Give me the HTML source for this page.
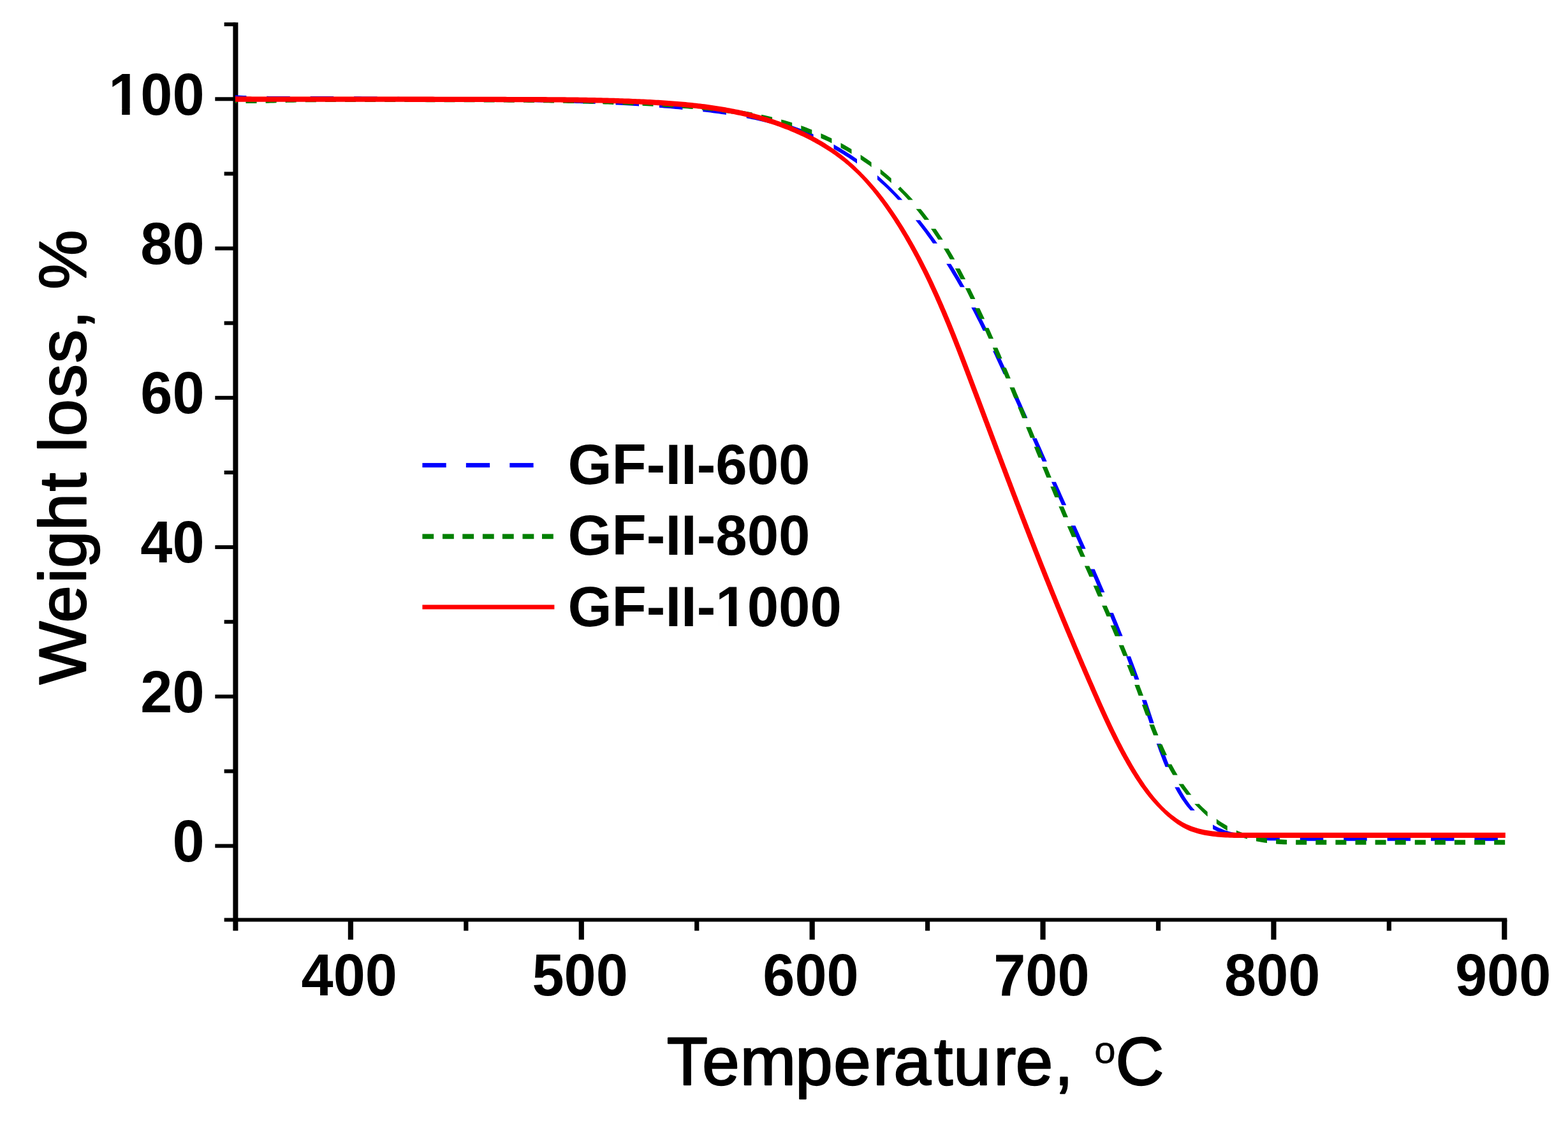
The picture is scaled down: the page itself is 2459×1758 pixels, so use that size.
<!DOCTYPE html>
<html lang="en"><head><meta charset="utf-8"><title>TGA weight loss curves</title>
<style>
html,body{margin:0;padding:0;background:#fff;width:2459px;height:1758px}
svg{display:block;filter:blur(0.7px)}
text{font-family:"Liberation Sans",Arial,Helvetica,sans-serif;fill:#000}
.b{font-weight:bold}
</style></head><body>
<svg width="2459" height="1758" viewBox="0 0 2459 1758" role="img" aria-label="Weight loss versus temperature for GF-II-600, GF-II-800 and GF-II-1000">
<rect x="0" y="0" width="2459" height="1758" fill="#fff"/>
<g id="axes" fill="#000">
<rect x="365.4" y="35.22" width="8" height="1424.38"/>
<rect x="351.6" y="1439.55" width="2011.7" height="5.9"/>
<rect x="337.3" y="1323.6" width="32.1" height="6"/>
<rect x="351.6" y="1206.47" width="17.8" height="6"/>
<rect x="337.3" y="1089.34" width="32.1" height="6"/>
<rect x="351.6" y="972.21" width="17.8" height="6"/>
<rect x="337.3" y="855.08" width="32.1" height="6"/>
<rect x="351.6" y="737.95" width="17.8" height="6"/>
<rect x="337.3" y="620.82" width="32.1" height="6"/>
<rect x="351.6" y="503.69" width="17.8" height="6"/>
<rect x="337.3" y="386.56" width="32.1" height="6"/>
<rect x="351.6" y="269.43" width="17.8" height="6"/>
<rect x="337.3" y="152.3" width="32.1" height="6"/>
<rect x="351.6" y="35.17" width="17.8" height="6"/>
<rect x="545.8" y="1442.5" width="8.2" height="31.1"/>
<rect x="727.24" y="1442.5" width="7.2" height="17.1"/>
<rect x="907.68" y="1442.5" width="8.2" height="31.1"/>
<rect x="1089.12" y="1442.5" width="7.2" height="17.1"/>
<rect x="1269.56" y="1442.5" width="8.2" height="31.1"/>
<rect x="1451" y="1442.5" width="7.2" height="17.1"/>
<rect x="1631.44" y="1442.5" width="8.2" height="31.1"/>
<rect x="1812.88" y="1442.5" width="7.2" height="17.1"/>
<rect x="1993.32" y="1442.5" width="8.2" height="31.1"/>
<rect x="2174.76" y="1442.5" width="7.2" height="17.1"/>
<rect x="2355.2" y="1442.5" width="8.2" height="31.1"/>
</g>
<g id="curves" stroke="none">
<path id="c600" fill="#0000ff" d="M368.97 149.19L373.4 149.46L377.82 149.69L382.25 149.91L386.4 150.08L386.4 156.98L382.25 156.81L377.82 156.59L373.4 156.36L368.97 156.09ZM418.3 150.87L422.11 150.91L426.53 150.94L430.96 150.96L435.39 150.98L439.81 150.98L444.24 150.98L448.67 150.98L453.09 150.97L454.8 150.96L454.8 157.86L453.09 157.87L448.67 157.88L444.24 157.88L439.81 157.88L435.39 157.88L430.96 157.86L426.53 157.84L422.11 157.81L418.3 157.77ZM486.7 150.9L490.71 150.9L495.13 150.91L499.56 150.92L503.98 150.94L508.41 150.95L512.83 150.97L517.26 150.99L521.68 151.02L523.2 151.03L523.2 157.93L521.68 157.92L517.26 157.89L512.83 157.87L508.41 157.85L503.98 157.84L499.56 157.82L495.13 157.81L490.71 157.8L486.7 157.8ZM555.1 151.26L559.28 151.3L563.71 151.34L568.13 151.38L572.56 151.42L576.98 151.46L581.4 151.5L585.83 151.54L590.25 151.58L591.6 151.59L591.6 158.49L590.25 158.48L585.83 158.44L581.4 158.4L576.98 158.36L572.56 158.32L568.13 158.28L563.71 158.24L559.28 158.2L555.1 158.16ZM623.5 151.85L627.85 151.88L632.28 151.91L636.7 151.94L641.13 151.97L645.55 151.99L649.97 152.01L654.4 152.04L658.82 152.06L660 152.06L660 158.96L658.82 158.96L654.4 158.94L649.97 158.91L645.55 158.89L641.13 158.87L636.7 158.84L632.28 158.81L627.85 158.78L623.5 158.75ZM691.9 152.2L696.43 152.22L700.85 152.24L705.28 152.25L709.71 152.27L714.13 152.29L718.56 152.31L722.98 152.33L727.41 152.35L728.4 152.35L728.4 159.25L727.41 159.25L722.98 159.23L718.56 159.21L714.13 159.19L709.71 159.17L705.28 159.15L700.85 159.14L696.43 159.12L691.9 159.1ZM760.3 152.53L762.82 152.55L767.24 152.58L771.67 152.61L776.1 152.65L780.53 152.69L784.95 152.73L789.38 152.77L793.81 152.81L796.8 152.84L796.8 159.74L793.81 159.71L789.38 159.67L784.95 159.63L780.53 159.59L776.1 159.55L771.67 159.51L767.24 159.48L762.82 159.45L760.3 159.43ZM828.7 153.25L831.46 153.3L835.89 153.37L840.32 153.44L844.75 153.52L849.18 153.61L853.61 153.69L858.04 153.78L862.48 153.88L865.2 153.94L865.2 160.84L862.48 160.78L858.04 160.68L853.61 160.59L849.18 160.51L844.75 160.42L840.32 160.34L835.89 160.27L831.46 160.2L828.7 160.15ZM897.1 154.77L900.16 154.86L904.59 155L909.03 155.14L913.46 155.29L917.9 155.45L922.33 155.61L926.77 155.78L931.21 155.95L933.6 156.04L933.6 162.94L931.21 162.85L926.77 162.68L922.33 162.51L917.9 162.35L913.46 162.19L909.03 162.04L904.59 161.9L900.16 161.76L897.1 161.67ZM965.5 157.49L968.91 157.66L973.35 157.89L977.78 158.13L982.21 158.38L986.64 158.63L991.07 158.9L995.5 159.16L999.93 159.44L1002 159.57L1002 166.47L999.93 166.34L995.5 166.06L991.07 165.8L986.64 165.53L982.21 165.28L977.78 165.03L973.35 164.79L968.91 164.56L965.5 164.39ZM1033.9 161.84L1037.5 162.12L1041.91 162.48L1046.31 162.84L1050.72 163.21L1055.12 163.6L1059.52 163.99L1063.92 164.39L1068.32 164.8L1070.4 165L1070.4 171.9L1068.32 171.7L1063.92 171.29L1059.52 170.89L1055.12 170.5L1050.72 170.11L1046.31 169.74L1041.91 169.38L1037.5 169.02L1033.9 168.74ZM1102.3 168.32L1105.55 168.69L1109.91 169.2L1114.27 169.72L1118.63 170.26L1122.98 170.82L1127.33 171.39L1131.67 171.98L1136.01 172.59L1138.8 172.99L1138.8 179.89L1136.01 179.49L1131.67 178.88L1127.33 178.29L1122.98 177.72L1118.63 177.16L1114.27 176.62L1109.91 176.1L1105.55 175.59L1102.3 175.22ZM1170.7 178.31L1174.86 179.12L1179.15 179.98L1183.43 180.88L1187.71 181.81L1191.99 182.77L1196.25 183.77L1200.52 184.8L1204.77 185.87L1207.2 186.5L1207.2 193.4L1204.77 192.77L1200.52 191.7L1196.25 190.67L1191.99 189.67L1187.71 188.71L1183.43 187.78L1179.15 186.88L1174.86 186.02L1170.7 185.21ZM1239.1 196.09L1242.81 197.38L1247 198.89L1251.18 200.44L1255.36 202.04L1259.52 203.69L1263.68 205.38L1267.81 207.13L1271.94 208.91L1275.6 210.54L1275.6 217.44L1271.94 215.81L1267.81 214.03L1263.68 212.28L1259.52 210.59L1255.36 208.94L1251.18 207.34L1247 205.79L1242.81 204.28L1239.1 202.99ZM1307.5 226.58L1310.15 228.08L1314.05 230.31L1317.91 232.59L1321.75 234.91L1325.55 237.27L1329.32 239.67L1333.06 242.1L1336.76 244.58L1340.43 247.09L1344 249.59L1344 256.49L1340.43 253.99L1336.76 251.48L1333.06 249L1329.32 246.57L1325.55 244.17L1321.75 241.81L1317.91 239.49L1314.05 237.21L1310.15 234.98L1307.5 233.48ZM1375.9 274.88L1378.37 277.06L1381.63 279.99L1384.85 282.95L1388.05 285.94L1391.23 288.96L1394.37 292.01L1397.49 295.09L1400.59 298.2L1400.59 305.1L1397.49 301.99L1394.37 298.91L1391.23 295.86L1388.05 292.84L1384.85 289.85L1381.63 286.89L1378.37 283.96L1375.9 281.78ZM1397.49 295.09L1400.94 298.54L1397.49 301.99L1394.04 298.54ZM1399.04 296.65L1402.49 300.1L1399.04 303.55L1395.59 300.1ZM1400.59 298.2L1404.04 301.65L1400.59 305.1L1397.14 301.65ZM1400.94 298.54L1404.04 301.65L1407.11 304.79L1410.16 307.96L1413.18 311.15L1415.32 313.44L1408.42 313.44L1406.28 311.15L1403.26 307.96L1400.21 304.79L1397.14 301.65L1394.04 298.54ZM1442.79 345.34L1444.86 347.95L1447.6 351.43L1450.32 354.94L1453.02 358.46L1455.69 362L1458.34 365.56L1460.97 369.14L1463.57 372.73L1466.16 376.35L1468.72 379.98L1470.02 381.84L1463.12 381.84L1461.82 379.98L1459.26 376.35L1456.67 372.73L1454.07 369.14L1451.44 365.56L1448.79 362L1446.12 358.46L1443.42 354.94L1440.7 351.43L1437.96 347.95L1435.89 345.34ZM1491.09 413.74L1493.16 417.06L1495.49 420.83L1497.8 424.61L1500.09 428.41L1502.36 432.21L1504.61 436.03L1506.84 439.85L1509.06 443.68L1511.26 447.52L1512.8 450.24L1505.9 450.24L1504.36 447.52L1502.16 443.68L1499.94 439.85L1497.71 436.03L1495.46 432.21L1493.19 428.41L1490.9 424.61L1488.59 420.83L1486.26 417.06L1484.19 413.74ZM1530.15 482.14L1531.34 484.42L1533.38 488.35L1535.4 492.28L1537.41 496.21L1539.41 500.15L1541.4 504.1L1543.38 508.06L1545.34 512.01L1547.3 515.98L1548.61 518.64L1541.71 518.64L1540.4 515.98L1538.44 512.01L1536.48 508.06L1534.5 504.1L1532.51 500.15L1530.51 496.21L1528.5 492.28L1526.48 488.35L1524.44 484.42L1523.25 482.14ZM1563.87 550.54L1565.43 553.86L1567.29 557.87L1569.16 561.88L1571.02 565.89L1572.87 569.9L1574.72 573.92L1576.56 577.94L1578.4 581.96L1580.23 585.98L1580.72 587.04L1573.82 587.04L1573.33 585.98L1571.5 581.96L1569.66 577.94L1567.82 573.92L1565.97 569.9L1564.12 565.89L1562.26 561.88L1560.39 557.87L1558.53 553.86L1556.97 550.54ZM1595.15 618.94L1596.63 622.24L1598.43 626.27L1600.24 630.31L1602.05 634.34L1603.85 638.38L1605.65 642.42L1607.45 646.46L1609.25 650.5L1611.04 654.54L1611.45 655.44L1604.55 655.44L1604.14 654.54L1602.35 650.5L1600.55 646.46L1598.75 642.42L1596.95 638.38L1595.15 634.34L1593.34 630.31L1591.53 626.27L1589.73 622.24L1588.25 618.94ZM1625.58 687.34L1627.17 690.93L1628.96 694.97L1630.74 699.02L1632.53 703.07L1634.32 707.11L1636.11 711.16L1637.9 715.21L1639.69 719.25L1641.48 723.3L1641.72 723.84L1634.82 723.84L1634.58 723.3L1632.79 719.25L1631 715.21L1629.21 711.16L1627.42 707.11L1625.63 703.07L1623.84 699.02L1622.06 694.97L1620.27 690.93L1618.68 687.34ZM1655.86 755.74L1657.63 759.72L1659.43 763.76L1661.23 767.81L1663.03 771.85L1664.84 775.9L1666.64 779.94L1668.45 783.99L1670.25 788.03L1672.06 792.08L1672.13 792.24L1665.23 792.24L1665.16 792.08L1663.35 788.03L1661.55 783.99L1659.74 779.94L1657.94 775.9L1656.13 771.85L1654.33 767.81L1652.53 763.76L1650.73 759.72L1648.96 755.74ZM1686.38 824.14L1687.42 826.46L1689.22 830.51L1691.02 834.55L1692.82 838.6L1694.62 842.65L1696.42 846.7L1698.22 850.75L1700.01 854.8L1701.81 858.85L1702.6 860.64L1695.7 860.64L1694.91 858.85L1693.11 854.8L1691.32 850.75L1689.52 846.7L1687.72 842.65L1685.92 838.6L1684.12 834.55L1682.32 830.51L1680.52 826.46L1679.48 824.14ZM1716.61 892.54L1717.83 895.35L1719.59 899.41L1721.36 903.47L1723.11 907.53L1724.87 911.6L1726.62 915.67L1728.36 919.73L1730.1 923.8L1731.84 927.87L1732.34 929.04L1725.44 929.04L1724.94 927.87L1723.2 923.8L1721.46 919.73L1719.72 915.67L1717.97 911.6L1716.21 907.53L1714.46 903.47L1712.69 899.41L1710.93 895.35L1709.71 892.54ZM1745.73 960.94L1747.24 964.58L1748.92 968.67L1750.6 972.76L1752.27 976.85L1753.93 980.95L1755.59 985.04L1757.24 989.14L1758.88 993.24L1760.52 997.35L1760.56 997.44L1753.66 997.44L1753.62 997.35L1751.98 993.24L1750.34 989.14L1748.69 985.04L1747.03 980.95L1745.37 976.85L1743.7 972.76L1742.02 968.67L1740.34 964.58L1738.83 960.94ZM1772.99 1029.34L1774.12 1032.32L1775.69 1036.45L1777.24 1040.58L1778.78 1044.71L1780.32 1048.85L1781.85 1052.98L1783.37 1057.13L1784.87 1061.27L1786.37 1065.42L1786.53 1065.84L1779.63 1065.84L1779.47 1065.42L1777.97 1061.27L1776.47 1057.13L1774.95 1052.98L1773.42 1048.85L1771.88 1044.71L1770.34 1040.58L1768.79 1036.45L1767.22 1032.32L1766.09 1029.34ZM1797.68 1097.74L1798.71 1100.8L1800.11 1104.97L1801.5 1109.16L1802.89 1113.34L1804.27 1117.53L1805.65 1121.72L1807.04 1125.91L1808.42 1130.1L1809.79 1134.24L1802.89 1134.24L1801.52 1130.1L1800.14 1125.91L1798.75 1121.72L1797.37 1117.53L1795.99 1113.34L1794.6 1109.16L1793.21 1104.97L1791.81 1100.8L1790.78 1097.74ZM1820.62 1166.14L1821.98 1169.99L1823.49 1174.19L1825.03 1178.39L1826.59 1182.59L1828.18 1186.78L1829.79 1190.98L1831.44 1195.17L1833.12 1199.37L1834.46 1202.64L1827.56 1202.64L1826.22 1199.37L1824.54 1195.17L1822.89 1190.98L1821.28 1186.78L1819.69 1182.59L1818.13 1178.39L1816.59 1174.19L1815.08 1169.99L1813.72 1166.14ZM1849.18 1234.54L1851.3 1238.48L1853.52 1242.42L1855.81 1246.31L1858.18 1250.14L1860.62 1253.9L1863.15 1257.58L1865.77 1261.18L1868.47 1264.69L1871.27 1268.11L1873.83 1271.04L1866.93 1271.04L1864.37 1268.11L1861.57 1264.69L1858.87 1261.18L1856.25 1257.58L1853.72 1253.9L1851.28 1250.14L1848.91 1246.31L1846.62 1242.42L1844.4 1238.48L1842.28 1234.54ZM1902 1293.27L1904.53 1294.67L1908.32 1296.63L1912.17 1298.44L1916.09 1300.11L1920.05 1301.63L1924.07 1303L1928.14 1304.24L1932.26 1305.34L1936.42 1306.32L1938.5 1306.76L1938.5 1313.66L1936.42 1313.22L1932.26 1312.24L1928.14 1311.14L1924.07 1309.9L1920.05 1308.53L1916.09 1307.01L1912.17 1305.34L1908.32 1303.53L1904.53 1301.57L1902 1300.17ZM1970.4 1310.6L1973.12 1310.74L1977.55 1310.93L1981.99 1311.08L1986.44 1311.2L1990.9 1311.28L1995.36 1311.35L1999.82 1311.4L2004.28 1311.45L2006.9 1311.48L2006.9 1318.38L2004.28 1318.35L1999.82 1318.3L1995.36 1318.25L1990.9 1318.18L1986.44 1318.1L1981.99 1317.98L1977.55 1317.83L1973.12 1317.64L1970.4 1317.5ZM2038.8 1311.72L2042.12 1311.74L2046.56 1311.76L2051 1311.77L2055.44 1311.79L2059.88 1311.8L2064.32 1311.81L2068.76 1311.81L2073.2 1311.82L2075.3 1311.82L2075.3 1318.72L2073.2 1318.72L2068.76 1318.71L2064.32 1318.71L2059.88 1318.7L2055.44 1318.69L2051 1318.67L2046.56 1318.66L2042.12 1318.64L2038.8 1318.62ZM2107.2 1311.82L2110.86 1311.82L2115.28 1311.82L2119.71 1311.82L2124.13 1311.82L2128.56 1311.82L2132.98 1311.82L2137.4 1311.82L2141.82 1311.82L2143.7 1311.82L2143.7 1318.72L2141.82 1318.72L2137.4 1318.72L2132.98 1318.72L2128.56 1318.72L2124.13 1318.72L2119.71 1318.72L2115.28 1318.72L2110.86 1318.72L2107.2 1318.72ZM2175.6 1311.82L2179.39 1311.82L2183.81 1311.82L2188.23 1311.82L2192.64 1311.82L2197.06 1311.82L2201.48 1311.82L2205.9 1311.82L2210.31 1311.82L2212.1 1311.82L2212.1 1318.72L2210.31 1318.72L2205.9 1318.72L2201.48 1318.72L2197.06 1318.72L2192.64 1318.72L2188.23 1318.72L2183.81 1318.72L2179.39 1318.72L2175.6 1318.72ZM2244 1311.82L2247.87 1311.82L2252.29 1311.82L2256.71 1311.82L2261.13 1311.82L2265.55 1311.82L2269.98 1311.82L2274.4 1311.82L2278.82 1311.82L2280.5 1311.82L2280.5 1318.72L2278.82 1318.72L2274.4 1318.72L2269.98 1318.72L2265.55 1318.72L2261.13 1318.72L2256.71 1318.72L2252.29 1318.72L2247.87 1318.72L2244 1318.72ZM2312.4 1311.82L2316.46 1311.82L2320.89 1311.82L2325.32 1311.82L2329.76 1311.82L2334.19 1311.82L2338.63 1311.82L2343.07 1311.82L2347.51 1311.82L2348.9 1311.82L2348.9 1318.72L2347.51 1318.72L2343.07 1318.72L2338.63 1318.72L2334.19 1318.72L2329.76 1318.72L2325.32 1318.72L2320.89 1318.72L2316.46 1318.72L2312.4 1318.72Z"/>
<path id="c800" fill="#008000" d="M368.96 154.39L371.18 154.44L371.4 154.45L371.4 161.85L371.18 161.84L368.96 161.79ZM385.5 154.63L388.9 154.64L393.33 154.63L397.76 154.6L402.2 154.56L402.5 154.55L402.5 161.95L402.2 161.96L397.76 162L393.33 162.03L388.9 162.04L385.5 162.03ZM416.6 154.31L419.91 154.24L424.34 154.14L428.77 154.03L433.2 153.92L433.6 153.91L433.6 161.31L433.2 161.32L428.77 161.43L424.34 161.54L419.91 161.64L416.6 161.71ZM447.7 153.54L450.91 153.46L455.34 153.36L459.76 153.26L464.19 153.17L464.7 153.16L464.7 160.56L464.19 160.57L459.76 160.66L455.34 160.76L450.91 160.86L447.7 160.94ZM478.8 152.93L481.89 152.89L486.32 152.84L490.74 152.8L495.17 152.76L495.8 152.75L495.8 160.15L495.17 160.16L490.74 160.2L486.32 160.24L481.89 160.29L478.8 160.33ZM509.9 152.67L512.87 152.65L517.29 152.63L521.72 152.62L526.14 152.61L526.9 152.61L526.9 160.01L526.14 160.01L521.72 160.02L517.29 160.03L512.87 160.05L509.9 160.07ZM541 152.58L543.83 152.58L548.26 152.57L552.68 152.57L557.1 152.56L558 152.56L558 159.96L557.1 159.96L552.68 159.97L548.26 159.97L543.83 159.98L541 159.98ZM572.1 152.56L574.8 152.56L579.22 152.56L583.64 152.57L588.06 152.57L589.1 152.57L589.1 159.97L588.06 159.97L583.64 159.97L579.22 159.96L574.8 159.96L572.1 159.96ZM603.2 152.58L605.75 152.59L610.18 152.59L614.6 152.6L619.02 152.61L620.2 152.61L620.2 160.01L619.02 160.01L614.6 160L610.18 159.99L605.75 159.99L603.2 159.98ZM634.3 152.64L638.92 152.65L643.35 152.66L647.77 152.67L651.3 152.68L651.3 160.08L647.77 160.07L643.35 160.06L638.92 160.05L634.3 160.04ZM665.4 152.72L669.88 152.73L674.3 152.74L678.73 152.75L682.4 152.76L682.4 160.16L678.73 160.15L674.3 160.14L669.88 160.13L665.4 160.12ZM696.5 152.8L700.84 152.81L705.27 152.83L709.69 152.84L713.5 152.85L713.5 160.25L709.69 160.24L705.27 160.23L700.84 160.21L696.5 160.2ZM727.6 152.89L731.81 152.91L736.24 152.92L740.66 152.94L744.6 152.95L744.6 160.35L740.66 160.34L736.24 160.32L731.81 160.31L727.6 160.29ZM758.7 153.01L762.79 153.03L767.21 153.05L771.64 153.07L775.7 153.09L775.7 160.49L771.64 160.47L767.21 160.45L762.79 160.43L758.7 160.41ZM789.8 153.18L793.77 153.21L798.2 153.24L802.63 153.27L806.8 153.31L806.8 160.71L802.63 160.67L798.2 160.64L793.77 160.61L789.8 160.58ZM820.9 153.43L824.77 153.47L829.2 153.52L833.63 153.57L837.9 153.62L837.9 161.02L833.63 160.97L829.2 160.92L824.77 160.87L820.9 160.83ZM852 153.81L855.79 153.86L860.22 153.93L864.65 154L869 154.07L869 161.47L864.65 161.4L860.22 161.33L855.79 161.26L852 161.21ZM883.1 154.32L886.81 154.39L891.25 154.48L895.68 154.58L900.1 154.68L900.1 162.08L895.68 161.98L891.25 161.88L886.81 161.79L883.1 161.72ZM914.2 155.01L917.86 155.11L922.3 155.22L926.74 155.35L931.18 155.47L931.2 155.47L931.2 162.87L931.18 162.87L926.74 162.75L922.3 162.62L917.86 162.51L914.2 162.41ZM945.3 155.91L948.93 156.03L953.37 156.18L957.81 156.33L962.25 156.49L962.3 156.49L962.3 163.89L962.25 163.89L957.81 163.73L953.37 163.58L948.93 163.43L945.3 163.31ZM976.4 157.04L980.02 157.18L984.47 157.37L988.91 157.56L993.36 157.76L993.4 157.76L993.4 165.16L993.36 165.16L988.91 164.96L984.47 164.77L980.02 164.58L976.4 164.44ZM1007.5 158.43L1011.14 158.61L1015.59 158.84L1020.04 159.07L1024.49 159.31L1024.5 159.31L1024.5 166.71L1024.49 166.71L1020.04 166.47L1015.59 166.24L1011.14 166.01L1007.5 165.83ZM1038.6 160.13L1042.28 160.35L1046.72 160.64L1051.17 160.93L1055.6 161.23L1055.6 168.63L1051.17 168.33L1046.72 168.04L1042.28 167.75L1038.6 167.53ZM1069.7 162.28L1073.36 162.57L1077.8 162.94L1082.23 163.32L1086.65 163.71L1086.7 163.72L1086.7 171.12L1086.65 171.11L1082.23 170.72L1077.8 170.34L1073.36 169.97L1069.7 169.68ZM1100.8 165.08L1104.32 165.45L1108.73 165.93L1113.13 166.42L1117.53 166.93L1117.8 166.97L1117.8 174.37L1117.53 174.33L1113.13 173.82L1108.73 173.33L1104.32 172.85L1100.8 172.48ZM1131.9 168.75L1135.07 169.18L1139.44 169.8L1143.81 170.43L1148.17 171.09L1148.9 171.21L1148.9 178.61L1148.17 178.49L1143.81 177.83L1139.44 177.2L1135.07 176.58L1131.9 176.15ZM1163 173.52L1165.53 173.96L1169.86 174.74L1174.17 175.54L1178.48 176.37L1180 176.67L1180 184.07L1178.48 183.77L1174.17 182.94L1169.86 182.14L1165.53 181.36L1163 180.92ZM1194.1 179.63L1197.75 180.45L1202.01 181.44L1206.26 182.45L1210.5 183.5L1211.1 183.65L1211.1 191.05L1210.5 190.9L1206.26 189.85L1202.01 188.84L1197.75 187.85L1194.1 187.03ZM1225.2 187.39L1229.45 188.59L1233.63 189.81L1237.8 191.07L1241.95 192.36L1242.2 192.44L1242.2 199.84L1241.95 199.76L1237.8 198.47L1233.63 197.21L1229.45 195.99L1225.2 194.79ZM1256.3 197.12L1260.51 198.62L1264.6 200.11L1268.68 201.64L1272.74 203.2L1273.3 203.43L1273.3 210.83L1272.74 210.6L1268.68 209.04L1264.6 207.51L1260.51 206.02L1256.3 204.52ZM1287.4 209.24L1290.85 210.76L1294.84 212.55L1298.81 214.38L1302.76 216.26L1304.4 217.05L1304.4 224.45L1302.76 223.66L1298.81 221.78L1294.84 219.95L1290.85 218.16L1287.4 216.64ZM1318.5 224.24L1322.3 226.3L1326.16 228.45L1330 230.64L1333.83 232.88L1335.5 233.88L1335.5 241.28L1333.83 240.28L1330 238.04L1326.16 235.85L1322.3 233.7L1318.5 231.64ZM1349.6 242.72L1352.65 244.74L1356.35 247.24L1360.02 249.78L1363.67 252.37L1366.6 254.5L1366.6 261.9L1363.67 259.77L1360.02 257.18L1356.35 254.64L1352.65 252.14L1349.6 250.12ZM1380.7 265.27L1383.23 267.3L1386.69 270.14L1390.12 273.02L1393.52 275.94L1396.88 278.89L1397.7 279.63L1397.7 287.03L1396.88 286.29L1393.52 283.34L1390.12 280.42L1386.69 277.54L1383.23 274.7L1380.7 272.67ZM1411.8 292.84L1414.71 295.73L1414.71 303.13L1411.8 300.24ZM1411.8 292.84L1415.5 296.54L1411.8 300.24L1408.1 296.54ZM1413.25 294.28L1416.95 297.98L1413.25 301.68L1409.55 297.98ZM1414.71 295.73L1418.41 299.43L1414.71 303.13L1411.01 299.43ZM1415.5 296.54L1418.41 299.43L1421.52 302.6L1424.59 305.8L1427.63 309.03L1430.62 312.29L1431.74 313.53L1424.34 313.53L1423.22 312.29L1420.23 309.03L1417.19 305.8L1414.12 302.6L1411.01 299.43L1408.1 296.54ZM1443.86 327.63L1446.4 330.75L1449.15 334.2L1451.87 337.67L1454.55 341.16L1457.16 344.63L1449.76 344.63L1447.15 341.16L1444.47 337.67L1441.75 334.2L1439 330.75L1436.46 327.63ZM1467.28 358.73L1468.73 360.83L1471.21 364.47L1473.66 368.14L1476.09 371.83L1478.49 375.54L1478.6 375.73L1471.2 375.73L1471.09 375.54L1468.69 371.83L1466.26 368.14L1463.81 364.47L1461.33 360.83L1459.88 358.73ZM1487.37 389.83L1488.95 392.47L1491.21 396.28L1493.45 400.1L1495.66 403.95L1497.3 406.83L1489.9 406.83L1488.26 403.95L1486.05 400.1L1483.81 396.28L1481.55 392.47L1479.97 389.83ZM1505.1 420.93L1506.42 423.36L1508.51 427.29L1510.58 431.22L1512.64 435.17L1514.06 437.93L1506.66 437.93L1505.24 435.17L1503.18 431.22L1501.11 427.29L1499.02 423.36L1497.7 420.93ZM1521.19 452.03L1522.68 455.04L1524.64 459.03L1526.59 463.04L1528.53 467.05L1529.48 469.03L1522.08 469.03L1521.13 467.05L1519.19 463.04L1517.24 459.03L1515.28 455.04L1513.79 452.03ZM1536.15 483.13L1538.05 487.18L1539.92 491.22L1541.79 495.26L1543.65 499.3L1544.03 500.13L1536.63 500.13L1536.25 499.3L1534.39 495.26L1532.52 491.22L1530.65 487.18L1528.75 483.13ZM1550.44 514.23L1551.92 517.52L1553.74 521.57L1555.55 525.63L1557.35 529.68L1558.03 531.23L1550.63 531.23L1549.95 529.68L1548.15 525.63L1546.34 521.57L1544.52 517.52L1543.04 514.23ZM1564.24 545.33L1565.38 547.96L1567.15 552.03L1568.92 556.09L1570.67 560.16L1571.61 562.33L1564.21 562.33L1563.27 560.16L1561.52 556.09L1559.75 552.03L1557.98 547.96L1556.84 545.33ZM1577.64 576.43L1579.38 580.52L1581.11 584.6L1582.83 588.68L1584.55 592.76L1584.83 593.43L1577.43 593.43L1577.15 592.76L1575.43 588.68L1573.71 584.6L1571.98 580.52L1570.24 576.43ZM1590.74 607.53L1592.24 611.12L1593.94 615.2L1595.63 619.29L1597.32 623.37L1597.8 624.53L1590.4 624.53L1589.92 623.37L1588.23 619.29L1586.54 615.2L1584.84 611.12L1583.34 607.53ZM1603.62 638.63L1604.91 641.75L1606.59 645.84L1608.27 649.93L1609.94 654.02L1610.6 655.63L1603.2 655.63L1602.54 654.02L1600.87 649.93L1599.19 645.84L1597.51 641.75L1596.22 638.63ZM1616.37 669.73L1617.47 672.41L1619.13 676.5L1620.8 680.58L1622.47 684.67L1623.31 686.73L1615.91 686.73L1615.07 684.67L1613.4 680.58L1611.73 676.5L1610.07 672.41L1608.97 669.73ZM1629.07 700.83L1630.81 705.1L1632.48 709.19L1634.15 713.27L1635.82 717.35L1636.02 717.83L1628.62 717.83L1628.42 717.35L1626.75 713.27L1625.08 709.19L1623.41 705.1L1621.67 700.83ZM1641.8 731.93L1643.36 735.72L1645.04 739.8L1646.72 743.88L1648.4 747.96L1648.8 748.93L1641.4 748.93L1641 747.96L1639.32 743.88L1637.64 739.8L1635.96 735.72L1634.4 731.93ZM1654.65 763.03L1656.01 766.3L1657.71 770.37L1659.41 774.44L1661.12 778.51L1661.75 780.03L1654.35 780.03L1653.72 778.51L1652.01 774.44L1650.31 770.37L1648.61 766.3L1647.25 763.03ZM1667.7 794.13L1668.84 796.8L1670.57 800.86L1672.3 804.92L1674.03 808.98L1674.95 811.13L1667.55 811.13L1666.63 808.98L1664.9 804.92L1663.17 800.86L1661.44 796.8L1660.3 794.13ZM1681.03 825.23L1682.78 829.24L1684.53 833.29L1686.3 837.34L1688.06 841.39L1688.43 842.23L1681.03 842.23L1680.66 841.39L1678.9 837.34L1677.13 833.29L1675.38 829.24L1673.63 825.23ZM1694.6 856.33L1696.03 859.59L1697.81 863.64L1699.59 867.68L1701.37 871.73L1702.07 873.33L1694.67 873.33L1693.97 871.73L1692.19 867.68L1690.41 863.64L1688.63 859.59L1687.2 856.33ZM1708.28 887.43L1709.38 889.92L1711.17 893.97L1712.95 898.02L1714.73 902.06L1715.77 904.43L1708.37 904.43L1707.33 902.06L1705.55 898.02L1703.77 893.97L1701.98 889.92L1700.88 887.43ZM1721.98 918.53L1723.63 922.3L1725.41 926.35L1727.18 930.41L1728.96 934.46L1729.42 935.53L1722.02 935.53L1721.56 934.46L1719.78 930.41L1718.01 926.35L1716.23 922.3L1714.58 918.53ZM1735.56 949.63L1736.9 952.72L1738.66 956.79L1740.42 960.85L1742.17 964.92L1742.9 966.63L1735.5 966.63L1734.77 964.92L1733.02 960.85L1731.26 956.79L1729.5 952.72L1728.16 949.63ZM1748.93 980.73L1750 983.25L1751.73 987.33L1753.45 991.41L1755.17 995.5L1756.11 997.73L1748.71 997.73L1747.77 995.5L1746.05 991.41L1744.33 987.33L1742.6 983.25L1741.53 980.73ZM1761.97 1011.83L1763.68 1015.97L1765.37 1020.08L1767.04 1024.19L1768.71 1028.3L1768.93 1028.83L1761.53 1028.83L1761.31 1028.3L1759.64 1024.19L1757.97 1020.08L1756.28 1015.97L1754.57 1011.83ZM1774.59 1042.93L1776.14 1046.85L1777.77 1050.98L1779.4 1055.12L1781.01 1059.26L1781.27 1059.93L1773.87 1059.93L1773.61 1059.26L1772 1055.12L1770.37 1050.98L1768.74 1046.85L1767.19 1042.93ZM1786.68 1074.03L1788.16 1077.95L1789.73 1082.12L1791.28 1086.29L1792.83 1090.47L1793.03 1091.03L1785.63 1091.03L1785.43 1090.47L1783.88 1086.29L1782.33 1082.12L1780.76 1077.95L1779.28 1074.03ZM1798.21 1105.13L1799.74 1109.28L1801.27 1113.46L1802.81 1117.64L1804.36 1121.82L1804.48 1122.13L1797.08 1122.13L1796.96 1121.82L1795.41 1117.64L1793.87 1113.46L1792.34 1109.28L1790.81 1105.13ZM1809.79 1136.23L1811.45 1140.53L1813.06 1144.66L1814.7 1148.79L1816.36 1152.9L1816.49 1153.23L1809.09 1153.23L1808.96 1152.9L1807.3 1148.79L1805.66 1144.66L1804.05 1140.53L1802.39 1136.23ZM1822.41 1167.33L1824.12 1171.24L1825.93 1175.27L1827.77 1179.28L1829.64 1183.27L1830.15 1184.33L1822.75 1184.33L1822.24 1183.27L1820.37 1179.28L1818.53 1175.27L1816.72 1171.24L1815.01 1167.33ZM1837.23 1198.43L1838.58 1200.97L1840.69 1204.84L1842.84 1208.68L1845.05 1212.5L1846.79 1215.43L1839.39 1215.43L1837.65 1212.5L1835.44 1208.68L1833.29 1204.84L1831.18 1200.97L1829.83 1198.43ZM1855.81 1229.53L1858.17 1232.93L1860.75 1236.54L1863.39 1240.12L1866.11 1243.66L1868.38 1246.53L1860.98 1246.53L1858.71 1243.66L1855.99 1240.12L1853.35 1236.54L1850.77 1232.93L1848.41 1229.53ZM1880.59 1260.63L1883.73 1263.92L1886.88 1267.1L1879.48 1267.1L1876.33 1263.92L1873.19 1260.63ZM1880.03 1260.22L1883.73 1263.92L1880.03 1267.62L1876.33 1263.92ZM1881.6 1261.81L1885.3 1265.51L1881.6 1269.21L1877.9 1265.51ZM1883.18 1263.4L1886.88 1267.1L1883.18 1270.8L1879.48 1267.1ZM1880.03 1260.22L1883.18 1263.4L1886.39 1266.52L1889.66 1269.57L1892.98 1272.55L1893.7 1273.17L1893.7 1280.57L1892.98 1279.95L1889.66 1276.97L1886.39 1273.92L1883.18 1270.8L1880.03 1267.62ZM1907.8 1284.37L1910.44 1286.24L1914.08 1288.72L1917.78 1291.09L1921.53 1293.37L1924.8 1295.25L1924.8 1302.65L1921.53 1300.77L1917.78 1298.49L1914.08 1296.12L1910.44 1293.64L1907.8 1291.77ZM1938.9 1302.25L1942.98 1303.94L1947.02 1305.48L1951.11 1306.9L1955.23 1308.19L1955.9 1308.39L1955.9 1315.79L1955.23 1315.59L1951.11 1314.3L1947.02 1312.88L1942.98 1311.34L1938.9 1309.65ZM1970 1311.88L1974.2 1312.7L1978.5 1313.43L1982.81 1314.09L1987 1314.64L1987 1322.04L1982.81 1321.49L1978.5 1320.83L1974.2 1320.1L1970 1319.28ZM2001.1 1316.04L2004.62 1316.29L2009.02 1316.55L2013.41 1316.77L2017.81 1316.94L2018.1 1316.95L2018.1 1324.35L2017.81 1324.34L2013.41 1324.17L2009.02 1323.95L2004.62 1323.69L2001.1 1323.44ZM2032.2 1317.27L2035.44 1317.3L2039.85 1317.32L2044.27 1317.33L2048.68 1317.33L2049.2 1317.33L2049.2 1324.73L2048.68 1324.73L2044.27 1324.73L2039.85 1324.72L2035.44 1324.7L2032.2 1324.67ZM2063.3 1317.33L2066.38 1317.33L2070.8 1317.33L2075.23 1317.33L2079.66 1317.33L2080.3 1317.33L2080.3 1324.73L2079.66 1324.73L2075.23 1324.73L2070.8 1324.73L2066.38 1324.73L2063.3 1324.73ZM2094.4 1317.33L2097.4 1317.33L2101.83 1317.33L2106.27 1317.33L2110.7 1317.33L2111.4 1317.33L2111.4 1324.73L2110.7 1324.73L2106.27 1324.73L2101.83 1324.73L2097.4 1324.73L2094.4 1324.73ZM2125.5 1317.33L2128.46 1317.33L2132.89 1317.33L2137.33 1317.33L2141.77 1317.33L2142.5 1317.33L2142.5 1324.73L2141.77 1324.73L2137.33 1324.73L2132.89 1324.73L2128.46 1324.73L2125.5 1324.73ZM2156.6 1317.33L2159.51 1317.33L2163.95 1317.33L2168.38 1317.33L2172.82 1317.33L2173.6 1317.33L2173.6 1324.73L2172.82 1324.73L2168.38 1324.73L2163.95 1324.73L2159.51 1324.73L2156.6 1324.73ZM2187.7 1317.35L2190.53 1317.35L2194.96 1317.36L2199.38 1317.36L2203.8 1317.36L2204.7 1317.36L2204.7 1324.76L2203.8 1324.76L2199.38 1324.76L2194.96 1324.76L2190.53 1324.75L2187.7 1324.75ZM2218.8 1317.36L2221.48 1317.36L2225.9 1317.36L2230.31 1317.36L2234.73 1317.36L2235.8 1317.36L2235.8 1324.76L2234.73 1324.76L2230.31 1324.76L2225.9 1324.76L2221.48 1324.76L2218.8 1324.76ZM2249.9 1317.36L2254.6 1317.36L2259.01 1317.36L2263.43 1317.36L2266.9 1317.36L2266.9 1324.76L2263.43 1324.76L2259.01 1324.76L2254.6 1324.76L2249.9 1324.76ZM2281 1317.36L2285.51 1317.36L2289.93 1317.36L2294.34 1317.36L2298 1317.36L2298 1324.76L2294.34 1324.76L2289.93 1324.76L2285.51 1324.76L2281 1324.76ZM2312.1 1317.36L2316.46 1317.36L2320.88 1317.36L2325.31 1317.36L2329.1 1317.36L2329.1 1324.76L2325.31 1324.76L2320.88 1324.76L2316.46 1324.76L2312.1 1324.76ZM2343.2 1317.36L2347.48 1317.36L2351.92 1317.36L2356.37 1317.36L2360.2 1317.36L2360.2 1324.76L2356.37 1324.76L2351.92 1324.76L2347.48 1324.76L2343.2 1324.76Z"/>
<path id="c1000" fill="#ff0000" d="M368.97 151.34L372.31 151.35L375.65 151.35L378.99 151.36L382.33 151.36L385.67 151.36L389.01 151.37L392.35 151.37L395.69 151.38L399.02 151.38L402.36 151.38L405.7 151.39L409.04 151.39L412.38 151.4L415.71 151.4L419.05 151.4L422.39 151.41L425.72 151.41L429.06 151.41L432.4 151.42L435.73 151.42L439.07 151.42L442.4 151.42L445.74 151.43L449.07 151.43L452.41 151.43L455.74 151.44L459.08 151.44L462.41 151.44L465.75 151.44L469.08 151.45L472.41 151.45L475.75 151.45L479.08 151.45L482.42 151.46L485.75 151.46L489.08 151.46L492.42 151.46L495.75 151.46L499.08 151.47L502.42 151.47L505.75 151.47L509.08 151.47L512.41 151.48L515.75 151.48L519.08 151.48L522.41 151.48L525.74 151.48L529.07 151.49L532.41 151.49L535.74 151.49L539.07 151.49L542.4 151.5L545.73 151.5L549.07 151.5L552.4 151.5L555.73 151.5L559.06 151.51L562.39 151.51L565.72 151.51L569.05 151.51L572.39 151.52L575.72 151.52L579.05 151.52L582.38 151.52L585.71 151.53L589.04 151.53L592.37 151.53L595.7 151.53L599.04 151.54L602.37 151.54L605.7 151.54L609.03 151.55L612.36 151.55L615.69 151.55L619.02 151.55L622.35 151.56L625.69 151.56L629.02 151.56L632.35 151.57L635.68 151.57L639.01 151.57L642.34 151.58L645.67 151.58L649.01 151.59L652.34 151.59L655.67 151.59L659 151.6L662.33 151.6L665.66 151.61L669 151.61L672.33 151.62L675.66 151.62L678.99 151.62L682.32 151.63L685.66 151.63L688.99 151.64L692.32 151.64L695.65 151.65L698.99 151.66L702.32 151.66L705.65 151.67L708.99 151.67L712.32 151.68L715.65 151.68L718.99 151.69L722.32 151.7L725.65 151.7L728.99 151.71L732.32 151.72L735.66 151.72L738.99 151.73L742.32 151.74L745.66 151.75L748.99 151.75L752.33 151.76L755.66 151.77L759 151.78L762.34 151.78L765.67 151.79L769.01 151.8L772.34 151.81L775.68 151.82L779.02 151.83L782.35 151.84L785.69 151.85L789.03 151.86L792.36 151.87L795.7 151.88L799.04 151.89L802.38 151.9L805.72 151.91L809.06 151.92L812.39 151.93L815.73 151.94L819.07 151.95L822.41 151.97L825.75 151.98L829.09 151.99L832.43 152L835.77 152.02L839.11 152.03L842.45 152.05L845.79 152.07L849.13 152.08L852.47 152.1L855.81 152.12L859.15 152.14L862.49 152.17L865.83 152.19L869.17 152.21L872.51 152.24L875.85 152.27L879.19 152.3L882.53 152.33L885.87 152.37L889.21 152.4L892.55 152.44L895.89 152.48L899.23 152.52L902.57 152.56L905.9 152.61L909.24 152.66L912.58 152.71L915.91 152.77L919.25 152.82L922.59 152.88L925.92 152.94L929.26 153.01L932.59 153.08L935.93 153.15L939.26 153.22L942.59 153.3L945.93 153.38L949.26 153.46L952.59 153.55L955.92 153.64L959.25 153.73L962.58 153.83L965.91 153.93L969.24 154.04L972.56 154.15L975.89 154.26L979.21 154.38L982.54 154.5L985.86 154.62L989.19 154.75L992.51 154.89L995.83 155.03L999.15 155.17L1002.47 155.32L1005.79 155.47L1009.11 155.62L1012.43 155.79L1015.74 155.95L1019.06 156.12L1022.37 156.3L1025.68 156.48L1028.99 156.67L1032.31 156.86L1035.61 157.06L1038.92 157.27L1042.23 157.48L1045.54 157.7L1048.84 157.93L1052.15 158.17L1055.45 158.41L1058.75 158.67L1062.05 158.93L1065.35 159.2L1068.64 159.49L1071.94 159.78L1075.23 160.08L1078.53 160.39L1081.82 160.72L1085.11 161.06L1088.4 161.4L1091.69 161.77L1094.97 162.14L1098.26 162.53L1101.54 162.93L1104.82 163.34L1108.1 163.77L1111.38 164.21L1114.66 164.67L1117.93 165.14L1121.2 165.63L1124.48 166.13L1127.74 166.65L1131.01 167.18L1134.28 167.74L1137.54 168.31L1140.81 168.9L1144.07 169.5L1147.33 170.13L1150.59 170.77L1153.84 171.43L1157.09 172.11L1160.35 172.81L1163.6 173.53L1166.84 174.27L1170.09 175.04L1173.33 175.82L1176.58 176.62L1179.82 177.45L1183.05 178.3L1186.29 179.17L1189.52 180.06L1192.75 180.98L1195.98 181.92L1199.21 182.89L1202.43 183.87L1205.64 184.88L1208.85 185.92L1212.05 186.98L1215.25 188.06L1218.44 189.16L1221.62 190.29L1224.79 191.45L1227.96 192.63L1231.11 193.83L1234.26 195.06L1237.4 196.32L1240.52 197.6L1243.64 198.9L1246.74 200.23L1249.83 201.59L1252.91 202.97L1255.97 204.38L1259.02 205.81L1262.06 207.27L1265.08 208.76L1268.08 210.27L1271.07 211.81L1274.05 213.38L1277 214.97L1279.94 216.59L1282.86 218.24L1285.76 219.91L1288.64 221.62L1291.51 223.35L1294.35 225.1L1297.17 226.89L1299.97 228.7L1302.75 230.55L1305.5 232.42L1308.24 234.32L1310.95 236.24L1313.63 238.2L1316.29 240.19L1318.93 242.2L1321.54 244.25L1324.12 246.32L1326.68 248.42L1329.22 250.56L1331.72 252.71L1334.21 254.9L1336.67 257.11L1339.1 259.35L1341.51 261.62L1343.9 263.91L1346.27 266.22L1348.61 268.56L1348.61 276.86L1346.27 274.52L1343.9 272.21L1341.51 269.92L1339.1 267.65L1336.67 265.41L1334.21 263.2L1331.72 261.01L1329.22 258.86L1326.68 256.72L1324.12 254.62L1321.54 252.55L1318.93 250.5L1316.29 248.49L1313.63 246.5L1310.95 244.54L1308.24 242.62L1305.5 240.72L1302.75 238.85L1299.97 237L1297.17 235.19L1294.35 233.4L1291.51 231.65L1288.64 229.92L1285.76 228.21L1282.86 226.54L1279.94 224.89L1277 223.27L1274.05 221.68L1271.07 220.11L1268.08 218.57L1265.08 217.06L1262.06 215.57L1259.02 214.11L1255.97 212.68L1252.91 211.27L1249.83 209.89L1246.74 208.53L1243.64 207.2L1240.52 205.9L1237.4 204.62L1234.26 203.36L1231.11 202.13L1227.96 200.93L1224.79 199.75L1221.62 198.59L1218.44 197.46L1215.25 196.36L1212.05 195.28L1208.85 194.22L1205.64 193.18L1202.43 192.17L1199.21 191.19L1195.98 190.22L1192.75 189.28L1189.52 188.36L1186.29 187.47L1183.05 186.6L1179.82 185.75L1176.58 184.92L1173.33 184.12L1170.09 183.34L1166.84 182.57L1163.6 181.83L1160.35 181.11L1157.09 180.41L1153.84 179.73L1150.59 179.07L1147.33 178.43L1144.07 177.8L1140.81 177.2L1137.54 176.61L1134.28 176.04L1131.01 175.48L1127.74 174.95L1124.48 174.43L1121.2 173.93L1117.93 173.44L1114.66 172.97L1111.38 172.51L1108.1 172.07L1104.82 171.64L1101.54 171.23L1098.26 170.83L1094.97 170.44L1091.69 170.07L1088.4 169.7L1085.11 169.36L1081.82 169.02L1078.53 168.69L1075.23 168.38L1071.94 168.08L1068.64 167.79L1065.35 167.5L1062.05 167.23L1058.75 166.97L1055.45 166.71L1052.15 166.47L1048.84 166.23L1045.54 166L1042.23 165.78L1038.92 165.57L1035.61 165.36L1032.31 165.16L1028.99 164.97L1025.68 164.78L1022.37 164.6L1019.06 164.42L1015.74 164.25L1012.43 164.09L1009.11 163.92L1005.79 163.77L1002.47 163.62L999.15 163.47L995.83 163.33L992.51 163.19L989.19 163.05L985.86 162.92L982.54 162.8L979.21 162.68L975.89 162.56L972.56 162.45L969.24 162.34L965.91 162.23L962.58 162.13L959.25 162.03L955.92 161.94L952.59 161.85L949.26 161.76L945.93 161.68L942.59 161.6L939.26 161.52L935.93 161.45L932.59 161.38L929.26 161.31L925.92 161.24L922.59 161.18L919.25 161.12L915.91 161.07L912.58 161.01L909.24 160.96L905.9 160.91L902.57 160.86L899.23 160.82L895.89 160.78L892.55 160.74L889.21 160.7L885.87 160.67L882.53 160.63L879.19 160.6L875.85 160.57L872.51 160.54L869.17 160.51L865.83 160.49L862.49 160.47L859.15 160.44L855.81 160.42L852.47 160.4L849.13 160.38L845.79 160.37L842.45 160.35L839.11 160.33L835.77 160.32L832.43 160.3L829.09 160.29L825.75 160.28L822.41 160.27L819.07 160.25L815.73 160.24L812.39 160.23L809.06 160.22L805.72 160.21L802.38 160.2L799.04 160.19L795.7 160.18L792.36 160.17L789.03 160.16L785.69 160.15L782.35 160.14L779.02 160.13L775.68 160.12L772.34 160.11L769.01 160.1L765.67 160.09L762.34 160.08L759 160.08L755.66 160.07L752.33 160.06L748.99 160.05L745.66 160.05L742.32 160.04L738.99 160.03L735.66 160.02L732.32 160.02L728.99 160.01L725.65 160L722.32 160L718.99 159.99L715.65 159.98L712.32 159.98L708.99 159.97L705.65 159.97L702.32 159.96L698.99 159.96L695.65 159.95L692.32 159.94L688.99 159.94L685.66 159.93L682.32 159.93L678.99 159.92L675.66 159.92L672.33 159.92L669 159.91L665.66 159.91L662.33 159.9L659 159.9L655.67 159.89L652.34 159.89L649.01 159.89L645.67 159.88L642.34 159.88L639.01 159.87L635.68 159.87L632.35 159.87L629.02 159.86L625.69 159.86L622.35 159.86L619.02 159.85L615.69 159.85L612.36 159.85L609.03 159.85L605.7 159.84L602.37 159.84L599.04 159.84L595.7 159.83L592.37 159.83L589.04 159.83L585.71 159.83L582.38 159.82L579.05 159.82L575.72 159.82L572.39 159.82L569.05 159.81L565.72 159.81L562.39 159.81L559.06 159.81L555.73 159.8L552.4 159.8L549.07 159.8L545.73 159.8L542.4 159.8L539.07 159.79L535.74 159.79L532.41 159.79L529.07 159.79L525.74 159.78L522.41 159.78L519.08 159.78L515.75 159.78L512.41 159.78L509.08 159.77L505.75 159.77L502.42 159.77L499.08 159.77L495.75 159.76L492.42 159.76L489.08 159.76L485.75 159.76L482.42 159.76L479.08 159.75L475.75 159.75L472.41 159.75L469.08 159.75L465.75 159.74L462.41 159.74L459.08 159.74L455.74 159.74L452.41 159.73L449.07 159.73L445.74 159.73L442.4 159.72L439.07 159.72L435.73 159.72L432.4 159.72L429.06 159.71L425.72 159.71L422.39 159.71L419.05 159.7L415.71 159.7L412.38 159.7L409.04 159.69L405.7 159.69L402.36 159.68L399.02 159.68L395.69 159.68L392.35 159.67L389.01 159.67L385.67 159.66L382.33 159.66L378.99 159.66L375.65 159.65L372.31 159.65L368.97 159.64ZM1346.27 266.22L1350.42 270.37L1346.27 274.52L1342.12 270.37ZM1347.44 267.39L1351.59 271.54L1347.44 275.69L1343.29 271.54ZM1348.61 268.56L1352.76 272.71L1348.61 276.86L1344.46 272.71ZM1350.42 270.37L1352.76 272.71L1355.07 275.07L1357.37 277.46L1359.64 279.87L1361.9 282.3L1364.13 284.75L1366.34 287.22L1368.52 289.71L1370.69 292.22L1372.84 294.76L1374.96 297.31L1377.07 299.87L1379.16 302.46L1381.23 305.06L1383.28 307.69L1385.31 310.32L1387.32 312.97L1389.32 315.64L1391.29 318.32L1393.25 321.02L1395.19 323.73L1397.12 326.45L1399.03 329.19L1400.92 331.93L1402.8 334.69L1404.66 337.46L1406.5 340.24L1408.33 343.03L1410.15 345.83L1411.95 348.63L1413.74 351.45L1415.51 354.27L1417.27 357.1L1419.02 359.94L1420.75 362.79L1422.47 365.64L1424.17 368.5L1425.87 371.37L1427.55 374.25L1429.21 377.13L1430.87 380.02L1432.51 382.92L1434.14 385.82L1435.76 388.73L1437.37 391.64L1438.96 394.57L1440.54 397.49L1442.12 400.43L1443.68 403.37L1445.23 406.32L1446.77 409.27L1448.29 412.23L1449.81 415.19L1451.32 418.16L1452.82 421.14L1454.3 424.12L1455.78 427.1L1457.25 430.09L1458.71 433.09L1460.15 436.09L1461.59 439.1L1463.02 442.11L1464.44 445.12L1465.86 448.14L1467.26 451.17L1468.66 454.2L1470.04 457.23L1471.42 460.27L1472.79 463.31L1474.16 466.36L1475.51 469.41L1476.86 472.46L1478.2 475.52L1479.53 478.58L1480.86 481.64L1482.18 484.71L1483.49 487.78L1484.8 490.85L1486.1 493.93L1487.39 497.01L1488.68 500.09L1489.96 503.18L1491.24 506.27L1492.51 509.36L1493.78 512.45L1495.04 515.55L1496.29 518.64L1497.54 521.74L1498.79 524.85L1500.03 527.95L1501.26 531.06L1502.5 534.16L1503.72 537.27L1504.95 540.38L1506.17 543.5L1507.39 546.61L1508.6 549.72L1509.81 552.84L1511.02 555.96L1512.22 559.08L1513.42 562.2L1514.62 565.31L1515.82 568.44L1517.01 571.56L1518.2 574.68L1519.39 577.8L1520.58 580.92L1521.77 584.04L1522.95 587.17L1524.13 590.29L1525.32 593.41L1526.5 596.53L1527.68 599.65L1528.86 602.77L1530.03 605.89L1531.21 609.01L1532.39 612.13L1533.57 615.25L1534.74 618.37L1535.92 621.49L1537.1 624.61L1538.27 627.72L1539.44 630.84L1540.62 633.96L1541.79 637.07L1542.97 640.19L1544.14 643.31L1545.31 646.42L1546.48 649.53L1547.66 652.65L1548.83 655.76L1550 658.88L1551.17 661.99L1552.34 665.1L1553.51 668.21L1554.69 671.33L1555.86 674.44L1557.03 677.55L1558.2 680.66L1559.37 683.77L1560.54 686.88L1561.71 689.99L1562.88 693.1L1564.06 696.21L1565.23 699.32L1566.4 702.43L1567.57 705.54L1568.74 708.65L1569.92 711.76L1571.09 714.86L1572.26 717.97L1573.44 721.08L1574.61 724.19L1575.79 727.3L1576.96 730.4L1578.14 733.51L1579.31 736.62L1580.49 739.72L1581.66 742.83L1582.84 745.93L1584.02 749.04L1585.2 752.15L1586.38 755.25L1587.56 758.36L1588.74 761.46L1589.92 764.57L1591.1 767.67L1592.28 770.78L1593.47 773.88L1594.65 776.99L1595.84 780.09L1597.02 783.2L1598.21 786.3L1599.4 789.41L1600.59 792.51L1601.78 795.62L1602.97 798.72L1604.16 801.82L1605.35 804.93L1606.55 808.03L1607.74 811.14L1608.94 814.24L1610.14 817.34L1611.34 820.45L1612.54 823.55L1613.74 826.66L1614.94 829.76L1616.14 832.87L1617.35 835.97L1618.56 839.07L1619.76 842.18L1620.97 845.28L1622.19 848.39L1623.4 851.49L1624.61 854.59L1625.83 857.7L1627.04 860.8L1628.26 863.91L1629.48 867.01L1630.71 870.12L1631.93 873.22L1633.15 876.33L1634.38 879.43L1635.61 882.54L1636.84 885.64L1638.07 888.75L1639.31 891.85L1640.54 894.96L1641.78 898.07L1643.02 901.17L1644.26 904.28L1645.51 907.39L1646.75 910.49L1648 913.6L1649.25 916.71L1650.5 919.81L1651.76 922.92L1653.01 926.03L1654.27 929.14L1655.53 932.24L1656.79 935.35L1658.06 938.46L1659.32 941.57L1660.59 944.68L1661.86 947.78L1663.14 950.89L1664.41 954L1665.69 957.1L1666.96 960.21L1668.24 963.32L1669.52 966.42L1670.81 969.53L1672.09 972.63L1673.38 975.73L1674.67 978.84L1675.96 981.94L1677.25 985.04L1678.54 988.14L1679.84 991.24L1681.13 994.34L1682.43 997.43L1683.73 1000.53L1685.03 1003.62L1686.33 1006.72L1687.64 1009.81L1688.94 1012.9L1690.25 1015.99L1691.56 1019.07L1692.87 1022.16L1694.18 1025.24L1695.49 1028.33L1696.8 1031.41L1698.12 1034.49L1699.43 1037.56L1700.75 1040.64L1702.06 1043.71L1703.38 1046.78L1704.7 1049.85L1706.02 1052.92L1707.35 1055.99L1708.67 1059.05L1709.99 1062.11L1711.32 1065.17L1712.64 1068.22L1713.97 1071.27L1715.3 1074.33L1716.63 1077.37L1717.96 1080.42L1719.29 1083.46L1720.62 1086.5L1721.95 1089.54L1723.28 1092.57L1724.62 1095.6L1725.96 1098.63L1727.3 1101.66L1728.64 1104.68L1729.99 1107.7L1731.35 1110.72L1732.7 1113.73L1734.07 1116.74L1735.44 1119.74L1736.81 1122.75L1738.19 1125.74L1739.58 1128.74L1740.97 1131.73L1742.37 1134.72L1743.78 1137.7L1745.2 1140.68L1746.63 1143.66L1748.06 1146.63L1749.51 1149.6L1750.96 1152.57L1752.43 1155.53L1753.9 1158.48L1755.39 1161.44L1756.89 1164.39L1758.4 1167.33L1759.92 1170.27L1761.46 1173.2L1763.01 1176.13L1764.57 1179.06L1766.15 1181.98L1767.74 1184.9L1769.35 1187.81L1770.97 1190.72L1772.61 1193.62L1774.26 1196.52L1775.93 1199.41L1777.62 1202.3L1779.32 1205.18L1781.04 1208.06L1782.79 1210.92L1784.55 1213.78L1786.33 1216.62L1788.14 1219.45L1789.96 1222.27L1791.81 1225.08L1793.69 1227.86L1795.59 1230.63L1797.51 1233.39L1799.46 1236.12L1801.44 1238.83L1803.44 1241.51L1805.48 1244.18L1807.54 1246.81L1809.64 1249.43L1811.76 1252.01L1813.92 1254.56L1816.11 1257.09L1818.33 1259.58L1820.59 1262.04L1822.88 1264.47L1825.21 1266.86L1827.57 1269.21L1819.27 1269.21L1816.91 1266.86L1814.58 1264.47L1812.29 1262.04L1810.03 1259.58L1807.81 1257.09L1805.62 1254.56L1803.46 1252.01L1801.34 1249.43L1799.24 1246.81L1797.18 1244.18L1795.14 1241.51L1793.14 1238.83L1791.16 1236.12L1789.21 1233.39L1787.29 1230.63L1785.39 1227.86L1783.51 1225.08L1781.66 1222.27L1779.84 1219.45L1778.03 1216.62L1776.25 1213.78L1774.49 1210.92L1772.74 1208.06L1771.02 1205.18L1769.32 1202.3L1767.63 1199.41L1765.96 1196.52L1764.31 1193.62L1762.67 1190.72L1761.05 1187.81L1759.44 1184.9L1757.85 1181.98L1756.27 1179.06L1754.71 1176.13L1753.16 1173.2L1751.62 1170.27L1750.1 1167.33L1748.59 1164.39L1747.09 1161.44L1745.6 1158.48L1744.13 1155.53L1742.66 1152.57L1741.21 1149.6L1739.76 1146.63L1738.33 1143.66L1736.9 1140.68L1735.48 1137.7L1734.07 1134.72L1732.67 1131.73L1731.28 1128.74L1729.89 1125.74L1728.51 1122.75L1727.14 1119.74L1725.77 1116.74L1724.4 1113.73L1723.05 1110.72L1721.69 1107.7L1720.34 1104.68L1719 1101.66L1717.66 1098.63L1716.32 1095.6L1714.98 1092.57L1713.65 1089.54L1712.32 1086.5L1710.99 1083.46L1709.66 1080.42L1708.33 1077.37L1707 1074.33L1705.67 1071.27L1704.34 1068.22L1703.02 1065.17L1701.69 1062.11L1700.37 1059.05L1699.05 1055.99L1697.72 1052.92L1696.4 1049.85L1695.08 1046.78L1693.76 1043.71L1692.45 1040.64L1691.13 1037.56L1689.82 1034.49L1688.5 1031.41L1687.19 1028.33L1685.88 1025.24L1684.57 1022.16L1683.26 1019.07L1681.95 1015.99L1680.64 1012.9L1679.34 1009.81L1678.03 1006.72L1676.73 1003.62L1675.43 1000.53L1674.13 997.43L1672.83 994.34L1671.54 991.24L1670.24 988.14L1668.95 985.04L1667.66 981.94L1666.37 978.84L1665.08 975.73L1663.79 972.63L1662.51 969.53L1661.22 966.42L1659.94 963.32L1658.66 960.21L1657.39 957.1L1656.11 954L1654.84 950.89L1653.56 947.78L1652.29 944.68L1651.02 941.57L1649.76 938.46L1648.49 935.35L1647.23 932.24L1645.97 929.14L1644.71 926.03L1643.46 922.92L1642.2 919.81L1640.95 916.71L1639.7 913.6L1638.45 910.49L1637.21 907.39L1635.96 904.28L1634.72 901.17L1633.48 898.07L1632.24 894.96L1631.01 891.85L1629.77 888.75L1628.54 885.64L1627.31 882.54L1626.08 879.43L1624.85 876.33L1623.63 873.22L1622.41 870.12L1621.18 867.01L1619.96 863.91L1618.74 860.8L1617.53 857.7L1616.31 854.59L1615.1 851.49L1613.89 848.39L1612.67 845.28L1611.46 842.18L1610.26 839.07L1609.05 835.97L1607.84 832.87L1606.64 829.76L1605.44 826.66L1604.24 823.55L1603.04 820.45L1601.84 817.34L1600.64 814.24L1599.44 811.14L1598.25 808.03L1597.05 804.93L1595.86 801.82L1594.67 798.72L1593.48 795.62L1592.29 792.51L1591.1 789.41L1589.91 786.3L1588.72 783.2L1587.54 780.09L1586.35 776.99L1585.17 773.88L1583.98 770.78L1582.8 767.67L1581.62 764.57L1580.44 761.46L1579.26 758.36L1578.08 755.25L1576.9 752.15L1575.72 749.04L1574.54 745.93L1573.36 742.83L1572.19 739.72L1571.01 736.62L1569.84 733.51L1568.66 730.4L1567.49 727.3L1566.31 724.19L1565.14 721.08L1563.96 717.97L1562.79 714.86L1561.62 711.76L1560.44 708.65L1559.27 705.54L1558.1 702.43L1556.93 699.32L1555.76 696.21L1554.58 693.1L1553.41 689.99L1552.24 686.88L1551.07 683.77L1549.9 680.66L1548.73 677.55L1547.56 674.44L1546.39 671.33L1545.21 668.21L1544.04 665.1L1542.87 661.99L1541.7 658.88L1540.53 655.76L1539.36 652.65L1538.18 649.53L1537.01 646.42L1535.84 643.31L1534.67 640.19L1533.49 637.07L1532.32 633.96L1531.14 630.84L1529.97 627.72L1528.8 624.61L1527.62 621.49L1526.44 618.37L1525.27 615.25L1524.09 612.13L1522.91 609.01L1521.73 605.89L1520.56 602.77L1519.38 599.65L1518.2 596.53L1517.02 593.41L1515.83 590.29L1514.65 587.17L1513.47 584.04L1512.28 580.92L1511.09 577.8L1509.9 574.68L1508.71 571.56L1507.52 568.44L1506.32 565.31L1505.12 562.2L1503.92 559.08L1502.72 555.96L1501.51 552.84L1500.3 549.72L1499.09 546.61L1497.87 543.5L1496.65 540.38L1495.42 537.27L1494.2 534.16L1492.96 531.06L1491.73 527.95L1490.49 524.85L1489.24 521.74L1487.99 518.64L1486.74 515.55L1485.48 512.45L1484.21 509.36L1482.94 506.27L1481.66 503.18L1480.38 500.09L1479.09 497.01L1477.8 493.93L1476.5 490.85L1475.19 487.78L1473.88 484.71L1472.56 481.64L1471.23 478.58L1469.9 475.52L1468.56 472.46L1467.21 469.41L1465.86 466.36L1464.49 463.31L1463.12 460.27L1461.74 457.23L1460.36 454.2L1458.96 451.17L1457.56 448.14L1456.14 445.12L1454.72 442.11L1453.29 439.1L1451.85 436.09L1450.41 433.09L1448.95 430.09L1447.48 427.1L1446 424.12L1444.52 421.14L1443.02 418.16L1441.51 415.19L1439.99 412.23L1438.47 409.27L1436.93 406.32L1435.38 403.37L1433.82 400.43L1432.24 397.49L1430.66 394.57L1429.07 391.64L1427.46 388.73L1425.84 385.82L1424.21 382.92L1422.57 380.02L1420.91 377.13L1419.25 374.25L1417.57 371.37L1415.87 368.5L1414.17 365.64L1412.45 362.79L1410.72 359.94L1408.97 357.1L1407.21 354.27L1405.44 351.45L1403.65 348.63L1401.85 345.83L1400.03 343.03L1398.2 340.24L1396.36 337.46L1394.5 334.69L1392.62 331.93L1390.73 329.19L1388.82 326.45L1386.89 323.73L1384.95 321.02L1382.99 318.32L1381.02 315.64L1379.02 312.97L1377.01 310.32L1374.98 307.69L1372.93 305.06L1370.86 302.46L1368.77 299.87L1366.66 297.31L1364.54 294.76L1362.39 292.22L1360.22 289.71L1358.04 287.22L1355.83 284.75L1353.6 282.3L1351.34 279.87L1349.07 277.46L1346.77 275.07L1344.46 272.71L1342.12 270.37ZM1821.06 1262.71L1825.21 1266.86L1821.06 1271.01L1816.91 1266.86ZM1822.24 1263.88L1826.39 1268.03L1822.24 1272.18L1818.09 1268.03ZM1823.42 1265.06L1827.57 1269.21L1823.42 1273.36L1819.27 1269.21ZM1821.06 1262.71L1823.42 1265.06L1825.83 1267.37L1828.27 1269.64L1830.74 1271.87L1833.26 1274.05L1835.82 1276.18L1838.42 1278.26L1841.06 1280.3L1843.75 1282.27L1846.48 1284.19L1849.25 1286.04L1852.07 1287.81L1854.93 1289.48L1857.85 1291.05L1860.8 1292.51L1863.81 1293.86L1866.85 1295.11L1869.93 1296.27L1873.05 1297.32L1876.19 1298.29L1879.37 1299.18L1882.57 1299.99L1885.8 1300.72L1889.04 1301.38L1892.3 1301.98L1895.58 1302.52L1898.86 1303L1902.16 1303.43L1905.46 1303.81L1908.77 1304.15L1912.08 1304.45L1915.4 1304.7L1918.72 1304.92L1922.05 1305.11L1925.38 1305.27L1928.71 1305.4L1932.05 1305.5L1935.39 1305.58L1938.74 1305.64L1942.09 1305.68L1945.43 1305.71L1948.78 1305.73L1952.13 1305.74L1955.48 1305.74L1958.83 1305.74L1962.18 1305.74L1965.53 1305.74L1968.88 1305.74L1972.23 1305.74L1975.58 1305.74L1978.92 1305.74L1982.27 1305.74L1985.62 1305.74L1988.96 1305.74L1992.31 1305.74L1995.65 1305.74L1999 1305.74L2002.34 1305.74L2005.68 1305.74L2009.03 1305.74L2012.37 1305.74L2015.71 1305.74L2019.05 1305.74L2022.39 1305.74L2025.73 1305.74L2029.07 1305.74L2032.41 1305.74L2035.75 1305.74L2039.09 1305.74L2042.43 1305.74L2045.77 1305.74L2049.11 1305.74L2052.45 1305.74L2055.79 1305.74L2059.12 1305.74L2062.46 1305.74L2065.8 1305.74L2069.13 1305.74L2072.47 1305.74L2075.8 1305.74L2079.14 1305.74L2082.47 1305.74L2085.81 1305.74L2089.14 1305.74L2092.48 1305.74L2095.81 1305.74L2099.15 1305.74L2102.48 1305.74L2105.81 1305.74L2109.15 1305.74L2112.48 1305.74L2115.81 1305.74L2119.15 1305.74L2122.48 1305.74L2125.81 1305.74L2129.14 1305.74L2132.48 1305.74L2135.81 1305.74L2139.14 1305.74L2142.47 1305.74L2145.8 1305.74L2149.13 1305.74L2152.47 1305.74L2155.8 1305.74L2159.13 1305.74L2162.46 1305.74L2165.79 1305.74L2169.12 1305.74L2172.45 1305.74L2175.78 1305.74L2179.11 1305.75L2182.45 1305.75L2185.78 1305.75L2189.11 1305.75L2192.44 1305.75L2195.77 1305.75L2199.1 1305.75L2202.43 1305.75L2205.76 1305.76L2209.09 1305.76L2212.42 1305.76L2215.75 1305.76L2219.09 1305.76L2222.42 1305.76L2225.75 1305.76L2229.08 1305.76L2232.41 1305.76L2235.74 1305.76L2239.07 1305.77L2242.41 1305.77L2245.74 1305.77L2249.07 1305.77L2252.4 1305.77L2255.73 1305.77L2259.07 1305.77L2262.4 1305.77L2265.73 1305.77L2269.06 1305.77L2272.4 1305.77L2275.73 1305.77L2279.06 1305.77L2282.4 1305.77L2285.73 1305.77L2289.07 1305.77L2292.4 1305.77L2295.73 1305.77L2299.07 1305.77L2302.4 1305.77L2305.74 1305.77L2309.08 1305.77L2312.41 1305.77L2315.75 1305.77L2319.08 1305.77L2322.42 1305.77L2325.76 1305.77L2329.1 1305.77L2332.43 1305.77L2335.77 1305.77L2339.11 1305.77L2342.45 1305.77L2345.79 1305.77L2349.13 1305.77L2352.47 1305.77L2355.81 1305.77L2359.15 1305.77L2360.82 1305.77L2360.82 1314.07L2359.15 1314.07L2355.81 1314.07L2352.47 1314.07L2349.13 1314.07L2345.79 1314.07L2342.45 1314.07L2339.11 1314.07L2335.77 1314.07L2332.43 1314.07L2329.1 1314.07L2325.76 1314.07L2322.42 1314.07L2319.08 1314.07L2315.75 1314.07L2312.41 1314.07L2309.08 1314.07L2305.74 1314.07L2302.4 1314.07L2299.07 1314.07L2295.73 1314.07L2292.4 1314.07L2289.07 1314.07L2285.73 1314.07L2282.4 1314.07L2279.06 1314.07L2275.73 1314.07L2272.4 1314.07L2269.06 1314.07L2265.73 1314.07L2262.4 1314.07L2259.07 1314.07L2255.73 1314.07L2252.4 1314.07L2249.07 1314.07L2245.74 1314.07L2242.41 1314.07L2239.07 1314.07L2235.74 1314.06L2232.41 1314.06L2229.08 1314.06L2225.75 1314.06L2222.42 1314.06L2219.09 1314.06L2215.75 1314.06L2212.42 1314.06L2209.09 1314.06L2205.76 1314.06L2202.43 1314.05L2199.1 1314.05L2195.77 1314.05L2192.44 1314.05L2189.11 1314.05L2185.78 1314.05L2182.45 1314.05L2179.11 1314.05L2175.78 1314.04L2172.45 1314.04L2169.12 1314.04L2165.79 1314.04L2162.46 1314.04L2159.13 1314.04L2155.8 1314.04L2152.47 1314.04L2149.13 1314.04L2145.8 1314.04L2142.47 1314.04L2139.14 1314.04L2135.81 1314.04L2132.48 1314.04L2129.14 1314.04L2125.81 1314.04L2122.48 1314.04L2119.15 1314.04L2115.81 1314.04L2112.48 1314.04L2109.15 1314.04L2105.81 1314.04L2102.48 1314.04L2099.15 1314.04L2095.81 1314.04L2092.48 1314.04L2089.14 1314.04L2085.81 1314.04L2082.47 1314.04L2079.14 1314.04L2075.8 1314.04L2072.47 1314.04L2069.13 1314.04L2065.8 1314.04L2062.46 1314.04L2059.12 1314.04L2055.79 1314.04L2052.45 1314.04L2049.11 1314.04L2045.77 1314.04L2042.43 1314.04L2039.09 1314.04L2035.75 1314.04L2032.41 1314.04L2029.07 1314.04L2025.73 1314.04L2022.39 1314.04L2019.05 1314.04L2015.71 1314.04L2012.37 1314.04L2009.03 1314.04L2005.68 1314.04L2002.34 1314.04L1999 1314.04L1995.65 1314.04L1992.31 1314.04L1988.96 1314.04L1985.62 1314.04L1982.27 1314.04L1978.92 1314.04L1975.58 1314.04L1972.23 1314.04L1968.88 1314.04L1965.53 1314.04L1962.18 1314.04L1958.83 1314.04L1955.48 1314.04L1952.13 1314.04L1948.78 1314.03L1945.43 1314.01L1942.09 1313.98L1938.74 1313.94L1935.39 1313.88L1932.05 1313.8L1928.71 1313.7L1925.38 1313.57L1922.05 1313.41L1918.72 1313.22L1915.4 1313L1912.08 1312.75L1908.77 1312.45L1905.46 1312.11L1902.16 1311.73L1898.86 1311.3L1895.58 1310.82L1892.3 1310.28L1889.04 1309.68L1885.8 1309.02L1882.57 1308.29L1879.37 1307.48L1876.19 1306.59L1873.05 1305.62L1869.93 1304.57L1866.85 1303.41L1863.81 1302.16L1860.8 1300.81L1857.85 1299.35L1854.93 1297.78L1852.07 1296.11L1849.25 1294.34L1846.48 1292.49L1843.75 1290.57L1841.06 1288.6L1838.42 1286.56L1835.82 1284.48L1833.26 1282.35L1830.74 1280.17L1828.27 1277.94L1825.83 1275.67L1823.42 1273.36L1821.06 1271.01Z"/>
</g>
<g id="legend-lines" stroke="none">
<rect fill="#0000ff" x="662.4" y="726.1" width="37.3" height="7"/>
<rect fill="#0000ff" x="730.85" y="726.1" width="37.3" height="7"/>
<rect fill="#0000ff" x="799.3" y="726.1" width="37.3" height="7"/>
<rect fill="#008000" x="662.4" y="837.4" width="17.8" height="7.8"/>
<rect fill="#008000" x="694" y="837.4" width="17.8" height="7.8"/>
<rect fill="#008000" x="725.3" y="837.4" width="17.8" height="7.8"/>
<rect fill="#008000" x="756.9" y="837.4" width="17.8" height="7.8"/>
<rect fill="#008000" x="787.9" y="837.4" width="17.8" height="7.8"/>
<rect fill="#008000" x="819.5" y="837.4" width="17.8" height="7.8"/>
<rect fill="#008000" x="850" y="837.4" width="17.8" height="7.8"/>
<rect fill="#ff0000" x="662.4" y="948.5" width="207" height="7"/>
</g>
<text id="yl0" class="b" transform="translate(320.6 1351) scale(0.967 1)" font-size="93.2" text-anchor="end">0</text>
<text id="yl20" class="b" transform="translate(320.6 1116.74) scale(0.967 1)" font-size="93.2" text-anchor="end">20</text>
<text id="yl40" class="b" transform="translate(320.6 882.48) scale(0.967 1)" font-size="93.2" text-anchor="end">40</text>
<text id="yl60" class="b" transform="translate(320.6 648.22) scale(0.967 1)" font-size="93.2" text-anchor="end">60</text>
<text id="yl80" class="b" transform="translate(320.6 413.96) scale(0.967 1)" font-size="93.2" text-anchor="end">80</text>
<text id="yl100" class="b" transform="translate(320.6 179.7) scale(0.967 1)" font-size="93.2" text-anchor="end">100</text>
<text id="xl400" class="b" transform="translate(547.7 1561.4) scale(0.967 1)" font-size="93.2" text-anchor="middle">400</text>
<text id="xl500" class="b" transform="translate(909.58 1561.4) scale(0.967 1)" font-size="93.2" text-anchor="middle">500</text>
<text id="xl600" class="b" transform="translate(1271.46 1561.4) scale(0.967 1)" font-size="93.2" text-anchor="middle">600</text>
<text id="xl700" class="b" transform="translate(1633.34 1561.4) scale(0.967 1)" font-size="93.2" text-anchor="middle">700</text>
<text id="xl800" class="b" transform="translate(1995.22 1561.4) scale(0.967 1)" font-size="93.2" text-anchor="middle">800</text>
<text id="xl900" class="b" transform="translate(2357.1 1561.4) scale(0.967 1)" font-size="93.2" text-anchor="middle">900</text>
<text id="lg0" class="b" transform="translate(890.5 759.2) scale(1.0 1)" font-size="88.8" text-anchor="start">GF-II-600</text>
<text id="lg1" class="b" transform="translate(890.5 870.4) scale(1.0 1)" font-size="88.8" text-anchor="start">GF-II-800</text>
<text id="lg2" class="b" transform="translate(890.5 981.6) scale(1.0 1)" font-size="88.8" text-anchor="start">GF-II-1000</text>
<rect fill="#fff" x="175.07" y="169.87" width="16.19" height="12.83"/>
<rect fill="#fff" x="203.63" y="169.87" width="15.01" height="12.83"/>
<rect fill="#fff" x="1127.07" y="972.23" width="15.96" height="12.37"/>
<rect fill="#fff" x="1155.21" y="972.23" width="14.79" height="12.37"/>
<text id="xt" font-size="105" y="1700.7" x="1045.81 1101.25 1160.84 1247.22 1307.25 1369.05 1401.62 1464.9 1495.33 1558.2 1592.65 1653.66 1683.06" xml:space="preserve" stroke="#000" stroke-width="2.4" stroke-linejoin="round">Temperature, <tspan id="deg" x="1716.32" y="1666.6" font-size="60" stroke-width="0.5">o</tspan><tspan id="cel" x="1749.52" y="1700.7">C</tspan></text>
<text id="yt" transform="translate(134.1 1072) rotate(-90)" font-size="104.5" x="-1.37 95.44 157.52 181.36 240.06 301.58 330.84 363.12 387.79 448.51 502.86 556.13 585.39 618.19" y="0" xml:space="preserve" stroke="#000" stroke-width="2.4" stroke-linejoin="round">Weight loss, %</text>
</svg>
</body></html>
